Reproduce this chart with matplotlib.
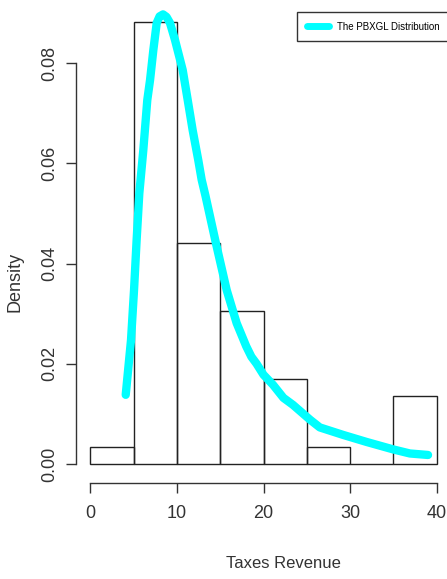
import numpy as np
import matplotlib
matplotlib.use("Agg")
import matplotlib.pyplot as plt

# histogram of taxes revenue (counts per 5-unit bin)
bin_edges = [0, 5, 10, 15, 20, 25, 30, 35, 40]
bin_counts = [1, 26, 13, 9, 5, 1, 0, 4]

# fitted PBXGL density
curve_x = [4.09, 4.70, 5.05, 5.35, 5.66, 6.12, 6.58, 6.90, 7.28, 7.67, 8.00, 8.40, 8.80,
           9.20, 9.78, 10.67, 11.25, 11.82, 12.47, 12.86, 13.30, 14.50, 15.75, 16.90,
           18.00, 18.60, 19.20, 20.00, 21.10, 22.30, 23.40, 25.40, 26.50, 29.20, 31.90,
           35.00, 36.90, 39.00]
curve_y = [0.0138, 0.0247, 0.0347, 0.0447, 0.0540, 0.0626, 0.0726, 0.0766, 0.0826, 0.0880,
           0.0893, 0.0897, 0.0892, 0.0880, 0.0846, 0.0786, 0.0726, 0.0666, 0.0606, 0.0567,
           0.0535, 0.0441, 0.0347, 0.0281, 0.0235, 0.0214, 0.0200, 0.0178, 0.0158, 0.0132,
           0.0118, 0.0088, 0.0073, 0.0058, 0.0044, 0.0029, 0.0021, 0.0018]

x_ticks = [0, 10, 20, 30, 40]
y_ticks = [0.00, 0.02, 0.04, 0.06, 0.08]

plt.rcParams['font.family'] = ['Liberation Sans', 'DejaVu Sans']

W, H = 447, 579
fig = plt.figure(figsize=(W / 100, H / 100), dpi=100)

# pixel calibration
xlo, xhi = -1.6, 41.6
ylo, yhi = -0.00373, 0.097
px_left = 90.3 + xlo * 8.66
px_right = 90.3 + xhi * 8.66
px_bot = 464 - ylo * 5012.5
px_top = 464 - yhi * 5012.5
ax = fig.add_axes([px_left / W, 1 - px_bot / H,
                   (px_right - px_left) / W, (px_bot - px_top) / H])

mids = [(a + b) / 2 for a, b in zip(bin_edges[:-1], bin_edges[1:])]
ax.hist(mids, bins=bin_edges, weights=bin_counts, density=True,
        histtype='bar', facecolor='none', edgecolor='#222222', linewidth=1.0)

ax.plot(curve_x, curve_y, color='cyan', lw=6, solid_capstyle='round',
        solid_joinstyle='round', label='The PBXGL Distribution', zorder=3)

ax.set_xlim(xlo, xhi)
ax.set_ylim(ylo, yhi)

for s in ['top', 'right']:
    ax.spines[s].set_visible(False)
ax.spines['left'].set_bounds(0, 0.08)
ax.spines['bottom'].set_bounds(0, 40)
for s in ['left', 'bottom']:
    ax.spines[s].set_color('#333333')
    ax.spines[s].set_linewidth(1.0)

ax.set_xticks(x_ticks)
ax.set_xticklabels([str(t) for t in x_ticks])
ax.set_yticks(y_ticks)
ax.set_yticklabels(['%.2f' % t for t in y_ticks], rotation=90, va='center')
ax.tick_params(axis='both', direction='out', length=7, width=1.0,
               color='#333333', labelcolor='#333333', labelsize=13)
ax.tick_params(axis='y', pad=6)
ax.tick_params(axis='x', pad=9)

fig.text(15 / W, 1 - 282 / H, 'Density', rotation=90, ha='center', va='center',
         fontsize=13, color='#333333')
fig.text(283 / W, 1 - 563 / H, 'Taxes Revenue', ha='center', va='center',
         fontsize=12, color='#333333')

leg = ax.legend(loc='upper right', bbox_to_anchor=(449 / W, 1 - 12 / H),
                bbox_transform=fig.transFigure, fontsize=7, frameon=True,
                fancybox=False, borderpad=1.0, handlelength=2.3,
                handletextpad=0.8, borderaxespad=0)
leg.get_frame().set_edgecolor('black')
leg.get_frame().set_linewidth(1.0)
for line in leg.get_lines():
    line.set_linewidth(5)

fig.savefig('out.png', dpi=100)
